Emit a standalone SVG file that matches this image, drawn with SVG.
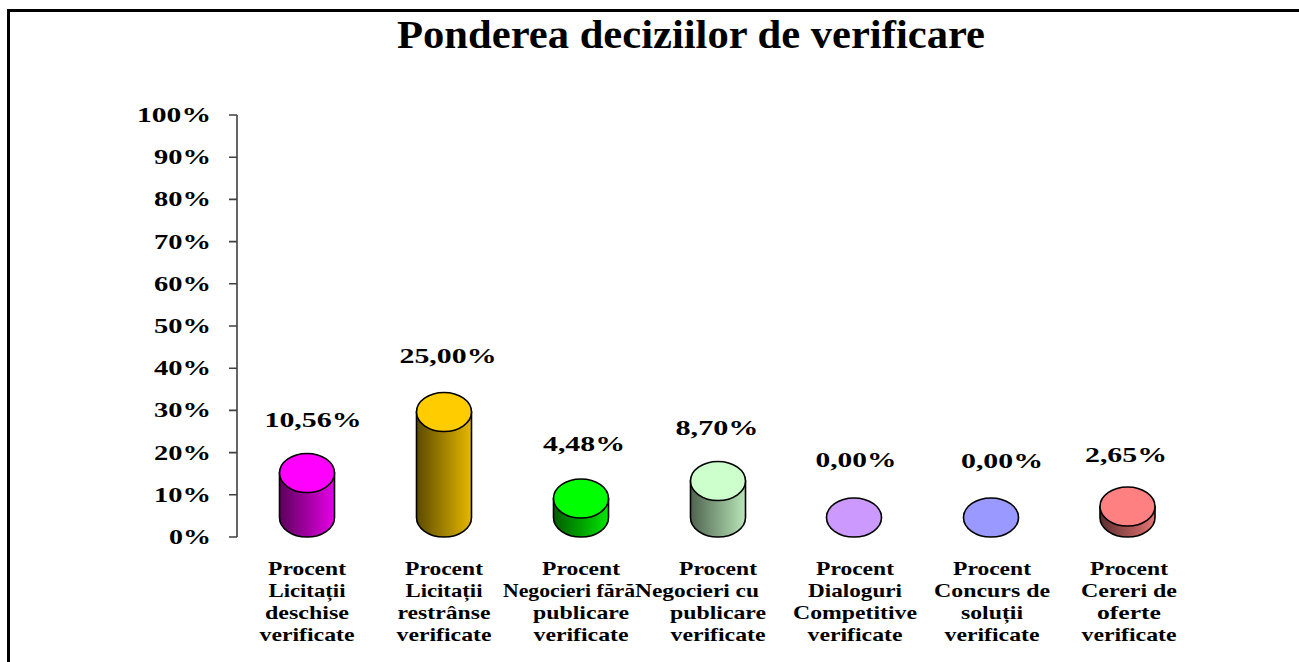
<svg xmlns="http://www.w3.org/2000/svg" width="1299" height="662" viewBox="0 0 1299 662">
<style>
text{font-family:"Liberation Serif","Times New Roman",serif;font-weight:bold;fill:#000;}
.ax{font-size:22px;text-anchor:end;}
.val{font-size:22px;text-anchor:middle;}
.cat{font-size:19px;text-anchor:middle;}
.cyl{stroke:#000;stroke-width:1.6;}
</style>
<defs>
<linearGradient id="g1" x1="0" x2="1" y1="0" y2="0"><stop offset="0" stop-color="#5c005c"/><stop offset="1" stop-color="#e600e6"/></linearGradient>
<linearGradient id="g2" x1="0" x2="1" y1="0" y2="0"><stop offset="0" stop-color="#5c4a00"/><stop offset="1" stop-color="#e6b800"/></linearGradient>
<linearGradient id="g3" x1="0" x2="1" y1="0" y2="0"><stop offset="0" stop-color="#005c00"/><stop offset="1" stop-color="#00e600"/></linearGradient>
<linearGradient id="g4" x1="0" x2="1" y1="0" y2="0"><stop offset="0" stop-color="#4f634f"/><stop offset="1" stop-color="#b8e6b8"/></linearGradient>
<linearGradient id="g7" x1="0" x2="1" y1="0" y2="0"><stop offset="0" stop-color="#5c2e2e"/><stop offset="1" stop-color="#e67373"/></linearGradient>
</defs>
<rect width="1299" height="662" fill="#fff"/>
<path d="M8.5 662 V10.5 H1299" fill="none" stroke="#000" stroke-width="3"/>
<text x="691" y="48" font-size="41" text-anchor="middle" textLength="588" lengthAdjust="spacingAndGlyphs">Ponderea deciziilor de verificare</text>

<g id="axis">
<path d="M237 115 V537 M229 115 H237 M229 157.2 H237 M229 199.4 H237 M229 241.6 H237 M229 283.8 H237 M229 326 H237 M229 368.2 H237 M229 410.4 H237 M229 452.6 H237 M229 494.8 H237 M229 537 H237" fill="none" stroke="#404040" stroke-width="1.6"/>
<text class="ax" x="211" y="122" textLength="74" lengthAdjust="spacingAndGlyphs">100%</text>
<text class="ax" x="211" y="164.2" textLength="57" lengthAdjust="spacingAndGlyphs">90%</text>
<text class="ax" x="211" y="206.4" textLength="57" lengthAdjust="spacingAndGlyphs">80%</text>
<text class="ax" x="211" y="248.6" textLength="57" lengthAdjust="spacingAndGlyphs">70%</text>
<text class="ax" x="211" y="290.8" textLength="57" lengthAdjust="spacingAndGlyphs">60%</text>
<text class="ax" x="211" y="333" textLength="57" lengthAdjust="spacingAndGlyphs">50%</text>
<text class="ax" x="211" y="375.2" textLength="57" lengthAdjust="spacingAndGlyphs">40%</text>
<text class="ax" x="211" y="417.4" textLength="57" lengthAdjust="spacingAndGlyphs">30%</text>
<text class="ax" x="211" y="459.6" textLength="57" lengthAdjust="spacingAndGlyphs">20%</text>
<text class="ax" x="211" y="501.8" textLength="57" lengthAdjust="spacingAndGlyphs">10%</text>
<text class="ax" x="211" y="544" textLength="42" lengthAdjust="spacingAndGlyphs">0%</text>
</g>

<g id="bar1">
<path class="cyl" fill="url(#g1)" d="M279.5 473 V517.5 A27.5 19.5 0 0 0 334.5 517.5 V473 Z"/>
<ellipse class="cyl" cx="307" cy="473" rx="27.5" ry="19.5" fill="#ff00ff"/>
<text class="val" x="313" y="427" textLength="97" lengthAdjust="spacingAndGlyphs">10,56%</text>
<text class="cat" x="307" y="575" textLength="78" lengthAdjust="spacingAndGlyphs">Procent</text>
<text class="cat" x="307" y="597" textLength="77" lengthAdjust="spacingAndGlyphs">Licitații</text>
<text class="cat" x="307" y="619" textLength="84" lengthAdjust="spacingAndGlyphs">deschise</text>
<text class="cat" x="307" y="641" textLength="95" lengthAdjust="spacingAndGlyphs">verificate</text>
</g>

<g id="bar2">
<path class="cyl" fill="url(#g2)" d="M416.5 412 V517.5 A27.5 19.5 0 0 0 471.5 517.5 V412 Z"/>
<ellipse class="cyl" cx="444" cy="412" rx="27.5" ry="19.5" fill="#ffcc00"/>
<text class="val" x="448" y="363" textLength="97" lengthAdjust="spacingAndGlyphs">25,00%</text>
<text class="cat" x="444" y="575" textLength="78" lengthAdjust="spacingAndGlyphs">Procent</text>
<text class="cat" x="444" y="597" textLength="77" lengthAdjust="spacingAndGlyphs">Licitații</text>
<text class="cat" x="444" y="619" textLength="93" lengthAdjust="spacingAndGlyphs">restrânse</text>
<text class="cat" x="444" y="641" textLength="95" lengthAdjust="spacingAndGlyphs">verificate</text>
</g>

<g id="bar3">
<path class="cyl" fill="url(#g3)" d="M553.5 498.5 V517.5 A27.5 19.5 0 0 0 608.5 517.5 V498.5 Z"/>
<ellipse class="cyl" cx="581" cy="498.5" rx="27.5" ry="19.5" fill="#00ff00"/>
<text class="val" x="584" y="451" textLength="82" lengthAdjust="spacingAndGlyphs">4,48%</text>
<text class="cat" x="581" y="575" textLength="78" lengthAdjust="spacingAndGlyphs">Procent</text>
<text class="cat" x="569" y="597" textLength="132" lengthAdjust="spacingAndGlyphs">Negocieri fără</text>
<text class="cat" x="581" y="619" textLength="96" lengthAdjust="spacingAndGlyphs">publicare</text>
<text class="cat" x="581" y="641" textLength="95" lengthAdjust="spacingAndGlyphs">verificate</text>
</g>

<g id="bar4">
<path class="cyl" fill="url(#g4)" d="M690.5 481 V517.5 A27.5 19.5 0 0 0 745.5 517.5 V481 Z"/>
<ellipse class="cyl" cx="718" cy="481" rx="27.5" ry="19.5" fill="#ccffcc"/>
<text class="val" x="717" y="435" textLength="83" lengthAdjust="spacingAndGlyphs">8,70%</text>
<text class="cat" x="718" y="575" textLength="78" lengthAdjust="spacingAndGlyphs">Procent</text>
<text class="cat" x="697" y="597" textLength="124" lengthAdjust="spacingAndGlyphs">Negocieri cu</text>
<text class="cat" x="718" y="619" textLength="96" lengthAdjust="spacingAndGlyphs">publicare</text>
<text class="cat" x="718" y="641" textLength="95" lengthAdjust="spacingAndGlyphs">verificate</text>
</g>

<g id="bar5">
<ellipse class="cyl" cx="854" cy="517.5" rx="27.5" ry="19.5" fill="#cc99ff"/>
<text class="val" x="856" y="467" textLength="81" lengthAdjust="spacingAndGlyphs">0,00%</text>
<text class="cat" x="855" y="575" textLength="78" lengthAdjust="spacingAndGlyphs">Procent</text>
<text class="cat" x="855" y="597" textLength="94" lengthAdjust="spacingAndGlyphs">Dialoguri</text>
<text class="cat" x="855" y="619" textLength="124" lengthAdjust="spacingAndGlyphs">Competitive</text>
<text class="cat" x="855" y="641" textLength="95" lengthAdjust="spacingAndGlyphs">verificate</text>
</g>

<g id="bar6">
<ellipse class="cyl" cx="991" cy="517.5" rx="27.5" ry="19.5" fill="#9999ff"/>
<text class="val" x="1002" y="468" textLength="82" lengthAdjust="spacingAndGlyphs">0,00%</text>
<text class="cat" x="992" y="575" textLength="78" lengthAdjust="spacingAndGlyphs">Procent</text>
<text class="cat" x="992" y="597" textLength="116" lengthAdjust="spacingAndGlyphs">Concurs de</text>
<text class="cat" x="992" y="619" textLength="62" lengthAdjust="spacingAndGlyphs">soluții</text>
<text class="cat" x="992" y="641" textLength="95" lengthAdjust="spacingAndGlyphs">verificate</text>
</g>

<g id="bar7">
<path class="cyl" fill="url(#g7)" d="M1100 506.5 V517.5 A27.5 19.5 0 0 0 1155 517.5 V506.5 Z"/>
<ellipse class="cyl" cx="1127.5" cy="506.5" rx="27.5" ry="19.5" fill="#ff8080"/>
<text class="val" x="1126" y="462" textLength="82" lengthAdjust="spacingAndGlyphs">2,65%</text>
<text class="cat" x="1129" y="575" textLength="78" lengthAdjust="spacingAndGlyphs">Procent</text>
<text class="cat" x="1129" y="597" textLength="96" lengthAdjust="spacingAndGlyphs">Cereri de</text>
<text class="cat" x="1129" y="619" textLength="64" lengthAdjust="spacingAndGlyphs">oferte</text>
<text class="cat" x="1129" y="641" textLength="95" lengthAdjust="spacingAndGlyphs">verificate</text>
</g>
</svg>
